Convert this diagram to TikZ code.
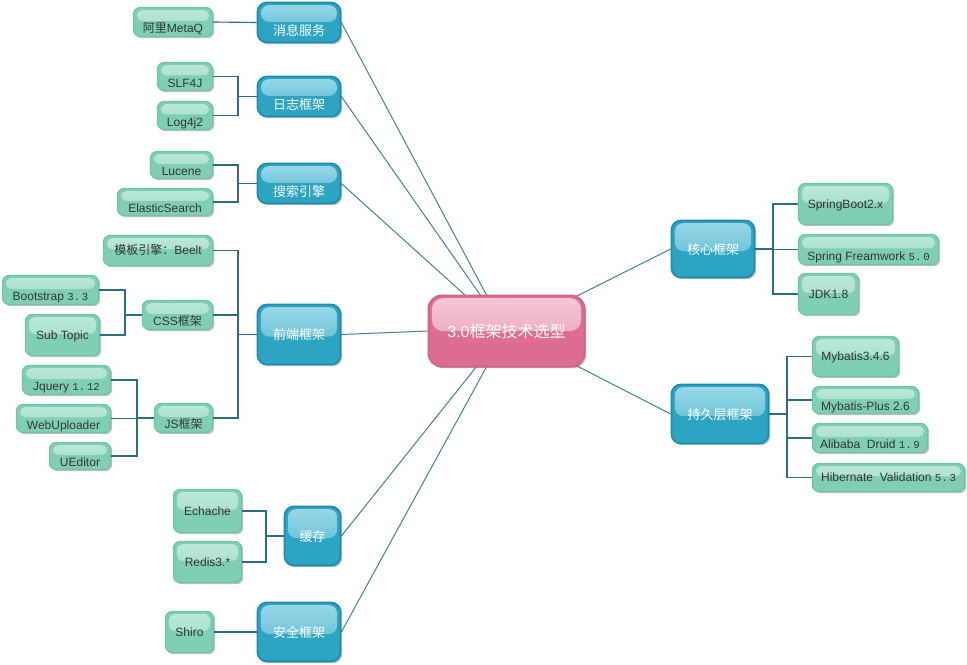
\documentclass[tikz,border=0pt]{standalone}
\usepackage{fontspec}
\setmainfont{Liberation Sans}
\newfontfamily\cjk{Noto Sans CJK SC}
\newfontfamily\mono{Liberation Mono}
\usetikzlibrary{shadows}
\pgfdeclarelayer{bg}
\pgfsetlayers{bg,main}
\definecolor{bluef}{HTML}{2CA4C2}
\definecolor{bluel}{HTML}{1E8CAD}
\definecolor{blueh}{HTML}{9AD8E8}
\definecolor{greenf}{HTML}{80CFB5}
\definecolor{greenl}{HTML}{70C5A8}
\definecolor{greenh}{HTML}{BEE9D8}
\definecolor{pinkf}{HTML}{DD6E91}
\definecolor{pinkl}{HTML}{D4628A}
\definecolor{pinkh}{HTML}{F4C9D6}
\definecolor{elbc}{HTML}{2D6D83}
\definecolor{spokec}{HTML}{3D8596}
\definecolor{txt}{HTML}{333333}
\tikzset{
  shd/.style={drop shadow={shadow xshift=1.3pt, shadow yshift=-1.3pt, opacity=0.25, fill=black}},
  gloss/.style n args={4}{path picture={\fill[top color=#1, bottom color=#2, rounded corners=#3]
      ([xshift=2.6pt,yshift=-2pt]path picture bounding box.north west) rectangle
      ([xshift=-2.6pt,yshift=#4]path picture bounding box.east);}},
  gbox/.style={shd, draw=greenl, fill=greenf, line width=1pt, rounded corners=5pt, inner sep=0pt,
      text=txt, font=\fontsize{9}{10}\selectfont, text height=6.5pt, text depth=0pt,
      gloss={greenh}{greenf!60!greenh}{4pt}{0.8pt}},
  glo/.style={text height=16pt},
  bbox/.style={shd, draw=bluel, fill=bluef, line width=1.3pt, rounded corners=7pt, inner sep=0pt,
      text=white, font=\cjk\fontsize{9.75}{11}\selectfont, text height=7.8pt, text depth=0pt,
      gloss={blueh}{bluef!70!blueh}{6pt}{-1.5pt}},
  blo/.style={text height=19.5pt, gloss={blueh}{bluef!70!blueh}{6pt}{0.5pt}},
  cbox/.style={shd, draw=pinkl, fill=pinkf, line width=1.5pt, rounded corners=10pt, inner sep=0pt,
      text=white, font=\cjk\fontsize{12}{14}\selectfont, text height=9.4pt, text depth=0pt,
      gloss={pinkh}{pinkf!55!pinkh}{8pt}{0pt}},
  spoke/.style={draw=spokec, line width=0.75pt},
  elb/.style={draw=elbc, line width=0.85pt},
}
\newcommand\bx[7]{\node[#1, minimum width={(#4-#3-1)*0.75pt}, minimum height={(#6-#5-1)*0.75pt}] (#2) at ({(#3+#4)/2},{(#5+#6)/2}) {#7};}
\begin{document}
\begin{tikzpicture}[x=0.75pt,y=-0.75pt]
\useasboundingbox (0,0) rectangle (967,664);
% centre
\bx{cbox}{c}{428}{585}{295}{367}{{\rmfamily 3.0}框架技术选型}
% main topics
\bx{bbox,blo}{b1}{257}{341}{2}{43}{消息服务}
\bx{bbox,blo}{b2}{257}{341}{76}{117}{日志框架}
\bx{bbox,blo}{b3}{257}{341}{163}{204}{搜索引擎}
\bx{bbox}{b4}{257}{341}{304}{365}{前端框架}
\bx{bbox}{b5}{284}{341}{506}{566}{缓存}
\bx{bbox}{b6}{257}{341}{602}{662}{安全框架}
\bx{bbox}{b7}{671}{755}{220}{278}{核心框架}
\bx{bbox}{b8}{671}{769}{384}{444}{持久层框架}
% sub topics
\bx{gbox,glo}{g1}{133}{213}{7}{37}{{\cjk 阿里}MetaQ}
\bx{gbox,glo}{g2}{157}{213}{62}{91}{SLF4J}
\bx{gbox,glo}{g3}{157}{213}{101}{130}{Log4j2}
\bx{gbox,glo}{g4}{150}{213}{151}{179}{Lucene}
\bx{gbox,glo}{g5}{117}{213}{188}{216}{ElasticSearch}
\bx{gbox}{g6}{103}{213}{235}{266}{{\cjk 模板引擎：}Beelt}
\bx{gbox,glo}{g7}{2}{99}{275}{305}{Bootstrap\ {\mono\fontsize{8}{9}\selectfont 3.\,3}}
\bx{gbox}{g8}{25}{100}{314}{356}{Sub Topic}
\bx{gbox,glo}{g9}{142}{213}{300}{330}{CSS{\cjk 框架}}
\bx{gbox,glo}{g10}{22}{111}{365}{395}{Jquery\ {\mono\fontsize{8}{9}\selectfont 1.\,12}}
\bx{gbox,glo}{g11}{16}{111}{404}{433}{WebUploader}
\bx{gbox,glo}{g12}{49}{111}{442}{470}{UEditor}
\bx{gbox,glo}{g13}{154}{213}{403}{433}{JS{\cjk 框架}}
\bx{gbox}{g14}{173}{242}{489}{533}{Echache}
\bx{gbox}{g15}{173}{242}{541}{583}{Redis3.*}
\bx{gbox}{g16}{165}{214}{611}{653}{Shiro}
\bx{gbox}{g17}{798}{893}{183}{225}{SpringBoot2.x}
\bx{gbox,glo}{g18}{798}{939}{234}{265}{Spring Freamwork {\mono\fontsize{8}{9}\selectfont 5.\,0}}
\bx{gbox}{g19}{798}{859}{273}{315}{JDK1.8}
\bx{gbox}{g20}{812}{899}{336}{377}{Mybatis3.4.6}
\bx{gbox,glo}{g21}{812}{919}{386}{414}{Mybatis-Plus\ 2.6}
\bx{gbox,glo}{g22}{812}{928}{423}{453}{Alibaba\ \ Druid {\mono\fontsize{8}{9}\selectfont 1.\,9}}
\bx{gbox}{g23}{812}{965}{463}{492}{Hibernate\ \ Validation {\mono\fontsize{8}{9}\selectfont 5.\,3}}
% connector helpers
\coordinate (k2) at (238,0);
\coordinate (k9) at (125,0);
\coordinate (k13) at (137,0);
\coordinate (k5) at (266,0);
\coordinate (k7) at (773,0);
\coordinate (k8) at (787,0);
\coordinate (t1) at (487,296);
\coordinate (t2) at (481,296);
\coordinate (t3) at (466,296);
\coordinate (t5) at (477,366);
\coordinate (t6) at (487,366);
\coordinate (t7) at (575,297);
\coordinate (t8) at (577,366);
\begin{pgfonlayer}{bg}
\fill[white] (0,0) rectangle (967,664);
% spokes
\draw[spoke] (b1.east) -- (t1);
\draw[spoke] (b2.east) -- (t2);
\draw[spoke] (b3.east) -- (t3);
\draw[spoke] (b4.east) -- (c.west);
\draw[spoke] (b5.east) -- (t5);
\draw[spoke] (b6.east) -- (t6);
\draw[spoke] (t7) -- (b7.west);
\draw[spoke] (t8) -- (b8.west);
% elbows
\draw[elb] (g1.east) -- (b1.west);
\draw[elb] (g2.east) -- (g2.east -| k2) |- (b2.west);
\draw[elb] (g3.east) -- (g3.east -| k2) |- (b2.west);
\draw[elb] (g4.east) -- (g4.east -| k2) |- (b3.west);
\draw[elb] (g5.east) -- (g5.east -| k2) |- (b3.west);
\draw[elb] (g6.east) -- (g6.east -| k2) |- (b4.west);
\draw[elb] (g9.east) -- (g9.east -| k2) |- (b4.west);
\draw[elb] (g13.east) -- (g13.east -| k2) |- (b4.west);
\draw[elb] (g7.east) -- (g7.east -| k9) |- (g9.west);
\draw[elb] (g8.east) -- (g8.east -| k9) |- (g9.west);
\draw[elb] (g10.east) -- (g10.east -| k13) |- (g13.west);
\draw[elb] (g11.east) -- (g11.east -| k13) |- (g13.west);
\draw[elb] (g12.east) -- (g12.east -| k13) |- (g13.west);
\draw[elb] (g14.east) -- (g14.east -| k5) |- (b5.west);
\draw[elb] (g15.east) -- (g15.east -| k5) |- (b5.west);
\draw[elb] (g16.east) -- (b6.west);
\draw[elb] (b7.east) -- (b7.east -| k7) |- (g17.west);
\draw[elb] (b7.east) -- (b7.east -| k7) |- (g18.west);
\draw[elb] (b7.east) -- (b7.east -| k7) |- (g19.west);
\draw[elb] (b8.east) -- (b8.east -| k8) |- (g20.west);
\draw[elb] (b8.east) -- (b8.east -| k8) |- (g21.west);
\draw[elb] (b8.east) -- (b8.east -| k8) |- (g22.west);
\draw[elb] (b8.east) -- (b8.east -| k8) |- (g23.west);
\end{pgfonlayer}
\end{tikzpicture}
\end{document}
